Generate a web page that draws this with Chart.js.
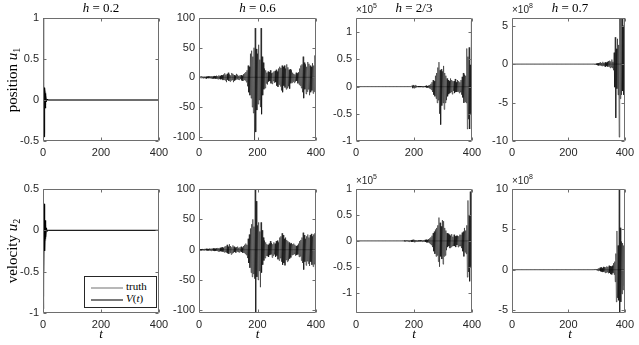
<!DOCTYPE html>
<html><head><meta charset="utf-8">
<script src="https://cdn.jsdelivr.net/npm/chart.js@4/dist/chart.umd.min.js"></script>
<style>
html,body{margin:0;padding:0;background:#fff;}
#wrap{position:relative;width:639px;height:345px;overflow:hidden;background:#fff;}
#wrap canvas{position:absolute;left:0;top:0;}
.lbl{position:absolute;white-space:nowrap;font-family:"Liberation Serif","DejaVu Serif",serif;color:#000;transform:translate(-50%,-50%);z-index:5;}
.ttl{font-size:13px;}
.ylab{font-size:15px;transform:translate(-50%,-50%) rotate(-90deg);}
.exp{position:absolute;white-space:nowrap;font-family:"Liberation Sans",Arial,sans-serif;font-size:10px;color:#262626;z-index:5;}
.exp sup{font-size:7px;vertical-align:5px;line-height:0;}
sub{font-size:10px;vertical-align:-3px;line-height:0;}
#legend{position:absolute;left:84px;top:276px;width:71px;height:30px;border:1px solid #262626;background:#fff;z-index:6;font-family:"Liberation Serif",serif;font-size:11px;}
.lgline{position:absolute;left:6px;width:32px;height:1.5px;}
.lgtxt{position:absolute;left:41px;white-space:nowrap;}
</style></head>
<body>
<div id="wrap"></div>
<script>
// ---------- data ----------
const xTicks = [0, 200, 400];
// time grid (t = 0, 2, ..., 400) for h = 0.6, 2/3, 0.7
const tGrid = [0,2,4,6,8,10,12,14,16,18,20,22,24,26,28,30,32,34,36,38,40,42,44,46,48,50,52,54,56,58,60,62,64,66,68,70,72,74,76,78,80,82,84,86,88,90,92,94,96,98,100,102,104,106,108,110,112,114,116,118,120,122,124,126,128,130,132,134,136,138,140,142,144,146,148,150,152,154,156,158,160,162,164,166,168,170,172,174,176,178,180,182,184,186,188,190,192,194,196,198,200,202,204,206,208,210,212,214,216,218,220,222,224,226,228,230,232,234,236,238,240,242,244,246,248,250,252,254,256,258,260,262,264,266,268,270,272,274,276,278,280,282,284,286,288,290,292,294,296,298,300,302,304,306,308,310,312,314,316,318,320,322,324,326,328,330,332,334,336,338,340,342,344,346,348,350,352,354,356,358,360,362,364,366,368,370,372,374,376,378,380,382,384,386,388,390,392,394,396,398,400];
// early-time grid (transient)
const tEarly = [0,1,2,3,4,5,6,7,8,9,10,12,14,16,20,400];
const truthU1 = [1,0.95,0.6,0.05,-0.4,-0.3,0.12,0.1,-0.06,-0.04,0.03,-0.01,0,0,0,0];
const truthU2 = [0,-0.3,-0.8,-0.7,0.1,0.3,0.05,-0.12,-0.05,0.06,0.03,-0.01,0,0,0,0];
// h = 0.2
const vU1_h02 = [1,1,0.7,0.1,-0.45,-0.2,0.15,0.08,-0.1,-0.05,0.06,-0.02,0.01,0,0,0];
const vU2_h02 = [0,-0.2,-0.95,-0.5,0.32,0.2,-0.25,-0.1,0.12,0.05,-0.08,0.03,-0.01,0,0,0];
// h = 0.6
const vU1_h06 = [
1,-1.5,1.2,-1,1.5,-1.2,1,-1.4,1.2,-1,
1.5,-1.8,1.3,-2,1.6,-1.2,2,-1.5,1.8,-1.3,
2,-1.6,2.2,-2.5,1.8,-2,2.5,-1.8,2.2,-2.6,
3,-2.5,2.2,-3,3.5,-2.8,2.5,-3.2,4,-3,
3.5,-4.5,5,-3.8,7,-5,4.5,-8,6,-4,
8,-6,5,-7,3.5,-5,7.5,-4,6,-8,
4,-5.5,3,-4,6,-3,4.5,-3.5,2.5,-4,
3.5,-2.5,4,-5,3,-6,5.5,-4,7,-5,
9,-8,12,-15,20,-25,18,-30,40,-35,
45,-50,35,-60,50,-107,83,-92,48,-55,
40,-45,55,-38,30,-50,83,-62,35,-30,
25,-20,15,-18,12,-10,8,-12,10,-7,
9,-6,12,-10,7,-11,8,-6,10,-9,
11,-8,13,-14,10,-16,15,-12,18,-15,
16,-22,20,-25,18,-14,20,-17,15,-20,
22,-18,17,-15,13,-19,14,-10,12,-9,
8,-7,6,-9,5,-7,8,-6,7,-10,
9,-12,15,-14,20,-18,22,-25,35,-35,
25,-20,22,-28,18,-24,26,-20,23,-30,
20,-25,18,-22,24,-27,20,-24,37,-22,
25];
const vU2_h06 = [
0,-1,0.8,-1.2,1,-0.8,1.2,-1,0.9,-1.1,
1.3,-1,1.5,-1.2,1.4,-1.6,1.2,-1.5,1.8,-1.3,
1.6,-2,1.8,-1.5,2.2,-1.8,2,-2.4,1.7,-2.2,
2.5,-2,2.8,-3,2.4,-3.2,3,-2.6,3.5,-3,
4,-3.5,3,-4.5,5,-4,6,-5,8,-6,
5,-7,9,-5,6,-8,4,-6,7,-5,
5,-4,3.5,-5,4,-3,5,-4,3,-4.5,
4,-3,5,-4,3.5,-5.5,6,-5,8,-7,
10,-9,8,-14,18,-22,25,-30,35,-38,
42,-45,50,-40,38,-48,100,-104,80,-45,
40,-50,45,-35,30,-62,45,-38,32,-25,
20,-18,15,-14,12,-10,9,-11,8,-12,
10,-9,14,-8,11,-13,9,-10,12,-8,
10,-12,14,-10,15,-16,12,-18,20,-14,
22,-20,27,-25,24,-22,18,-26,20,-17,
16,-20,14,-18,12,-15,10,-13,11,-9,
9,-8,10,-7,8,-10,6,-9,7,-8,
10,-12,14,-11,16,-18,20,-22,28,-33,
24,-20,18,-26,22,-19,25,-23,20,-27,
24,-20,26,-25,22,-28,25,-24,27,-33,
20];
// h = 2/3 (values in units of 10^5)
const vU1_h23 = [
0,0,0,0,0,0,0,0,0,0, 0,0,0,0,0,0,0,0,0,0,
0,0,0,0,0,0,0,0,0,0, 0,0,0,0,0,0,0,0,0,0,
0,0,0,0,0,0,0,0,0,0, 0,0,0,0,0,0,0,0,0,0,
0,0,0,0,0,0,0,0,0,0, 0,0,0,0,0,0,0,0,0,0,
0,0,0,0,0,0,0,0,0,0,
0,0,0,0,0,0,0,0.02,-0.03,0.03,
-0.03,0.02,-0.02,0.03,-0.01,0.01,-0.01,0.01,-0.01,0.01,
-0.01,0.01,-0.01,0.01,-0.01,0.01,-0.01,0.01,-0.01,0.01,
-0.01,0.02,-0.02,0.01,-0.02,0.02,-0.03,0.03,-0.04,0.05,
-0.06,0.08,-0.1,0.12,-0.15,0.1,-0.18,0.2,-0.22,0.25,
-0.3,0.35,-0.25,0.45,-0.5,0.3,-0.7,0.32,-0.35,0.28,
-0.3,0.38,-0.42,0.25,-0.3,0.2,-0.25,0.15,-0.18,0.12,
-0.14,0.1,-0.12,0.15,-0.1,0.12,-0.14,0.1,-0.08,0.1,
-0.12,0.14,-0.1,0.08,-0.1,0.12,-0.09,0.1,-0.12,0.08,
-0.1,0.12,-0.15,0.18,-0.2,0.25,-0.3,0.22,-0.28,0.2,
-0.3,0.7,-0.78,0.55,-0.6,0.72,-0.78,0.4,-0.5,1.2,
-0.3];
const vU2_h23 = [
0,0,0,0,0,0,0,0,0,0, 0,0,0,0,0,0,0,0,0,0,
0,0,0,0,0,0,0,0,0,0, 0,0,0,0,0,0,0,0,0,0,
0,0,0,0,0,0,0,0,0,0, 0,0,0,0,0,0,0,0,0,0,
0,0,0,0,0,0,0,0,0,0, 0,0,0,0,0,0,0,0,0,0,
0,0.005,-0.005,0.01,-0.01,0.005,-0.01,0.01,-0.005,0.01,
-0.01,0.01,-0.015,0.01,-0.01,0.015,-0.02,0.02,-0.02,0.025,
-0.025,0.02,-0.02,0.015,-0.01,0.01,-0.015,0.01,-0.01,0.01,
-0.01,0.015,-0.01,0.01,-0.015,0.01,-0.01,0.015,-0.015,0.02,
-0.02,0.025,-0.03,0.02,-0.03,0.035,-0.04,0.05,-0.06,0.07,
-0.08,0.1,-0.12,0.15,-0.2,0.18,-0.25,0.22,-0.3,0.25,
-0.28,0.3,-0.4,0.45,-0.5,0.35,-0.3,0.28,-0.35,0.4,
-0.45,0.38,-0.3,0.25,-0.28,0.2,-0.18,0.15,-0.12,0.14,
-0.1,0.12,-0.14,0.1,-0.12,0.13,-0.1,0.08,-0.1,0.12,
-0.1,0.09,-0.12,0.1,-0.08,0.1,-0.12,0.09,-0.1,0.12,
-0.1,0.12,-0.14,0.16,-0.2,0.18,-0.3,0.25,-0.22,0.2,
-0.25,0.3,-0.7,0.78,-0.6,0.5,-0.78,0.95,-0.5,0.4,
-0.3];
// h = 0.7 (values in units of 10^8)
const vU1_h07 = [
0,0,0,0,0,0,0,0,0,0, 0,0,0,0,0,0,0,0,0,0,
0,0,0,0,0,0,0,0,0,0, 0,0,0,0,0,0,0,0,0,0,
0,0,0,0,0,0,0,0,0,0, 0,0,0,0,0,0,0,0,0,0,
0,0,0,0,0,0,0,0,0,0, 0,0,0,0,0,0,0,0,0,0,
0,0,0,0,0,0,0,0,0,0, 0,0,0,0,0,0,0,0,0,0,
0,0,0,0,0,0,0,0,0,0, 0,0,0,0,0,0,0,0,0,0,
0,0,0,0,0,0,0,0,0,0, 0,0,0,0,0,0,0,0,0,0,
0,0,0,0,0,0.02,-0.03,0.04,-0.05,0.06,
-0.08,0.1,-0.15,0.12,-0.2,0.18,-0.15,0.25,-0.2,0.15,
-0.25,0.3,-0.2,0.15,-0.3,0.25,-0.35,0.2,-0.25,0.3,
-0.35,0.4,-0.3,0.45,-0.5,0.35,-0.4,0.6,-0.5,0.3,
-0.8,1.5,-3,3.5,-7,2,-3.2,3.3,-4,2.5,
-9.5,6.5,-4.5,6.5,-4,6.2,-3.5,5,-4,6,
-2];
const vU2_h07 = [
0,0,0,0,0,0,0,0,0,0, 0,0,0,0,0,0,0,0,0,0,
0,0,0,0,0,0,0,0,0,0, 0,0,0,0,0,0,0,0,0,0,
0,0,0,0,0,0,0,0,0,0, 0,0,0,0,0,0,0,0,0,0,
0,0,0,0,0,0,0,0,0,0, 0,0,0,0,0,0,0,0,0,0,
0,0,0,0,0,0,0,0,0,0, 0,0,0,0,0,0,0,0,0,0,
0,0,0,0,0,0,0,0,0,0, 0,0,0,0,0,0,0,0,0,0,
0,0,0,0,0,0,0,0,0,0, 0,0,0,0,0,0,0,0,0,0,
0,0,0,0,0,0,0.02,-0.02,0.03,-0.04,
0.05,-0.08,0.1,-0.15,0.2,-0.12,0.25,-0.2,0.3,-0.25,
0.2,-0.3,0.35,-0.25,0.3,-0.4,0.3,-0.35,0.4,-0.3,
0.35,-0.45,0.5,-0.4,0.45,-0.55,0.4,-0.6,0.5,-0.4,
0.8,-0.6,1,-1.5,2,-4,4.8,-3.5,3,-3.8,
10,-5.4,5.2,-4,3.5,-3,3.3,-2.5,3,-2,
1];
// y tick values per panel
const yTicks1 = [-0.5,0,0.5,1], yTicks2 = [-100,-50,0,50,100], yTicks3 = [-1,-0.5,0,0.5,1], yTicks4 = [-10,-5,0,5];
const yTicks5 = [-1,-0.5,0,0.5], yTicks6 = [-100,-50,0,50,100], yTicks7 = [-1,-0.5,0,0.5,1], yTicks8 = [-5,0,5,10];
const titles = ['0.2','0.6','2/3','0.7'];

// ---------- layout ----------
const COLL = [43,199,356,512], COLR = [159,316,472,628];
const ROWT = [18,189], ROWB = [141,313];
const V_COLOR = '#000000', TRUTH_COLOR = '#b8b8b8';

const panels = [
 {r:0,c:0,t:tEarly,v:vU1_h02,tr:truthU1,sc:1,ymin:-0.5,ymax:1,yt:yTicks1,lw:1},
 {r:0,c:1,t:tGrid,v:vU1_h06,tr:truthU1,sc:1,ymin:-107,ymax:100,yt:yTicks2,lw:0.5},
 {r:0,c:2,t:tGrid,v:vU1_h23,tr:truthU1,sc:1e5,ymin:-1,ymax:1.26,yt:yTicks3,ex:'5',lw:0.5},
 {r:0,c:3,t:tGrid,v:vU1_h07,tr:truthU1,sc:1e8,ymin:-10,ymax:6,yt:yTicks4,ex:'8',lw:0.5},
 {r:1,c:0,t:tEarly,v:vU2_h02,tr:truthU2,sc:1,ymin:-1,ymax:0.5,yt:yTicks5,lw:1},
 {r:1,c:1,t:tGrid,v:vU2_h06,tr:truthU2,sc:1,ymin:-104.5,ymax:100,yt:yTicks6,lw:0.5},
 {r:1,c:2,t:tGrid,v:vU2_h23,tr:truthU2,sc:1e5,ymin:-1.39,ymax:1,yt:yTicks7,ex:'5',lw:0.5},
 {r:1,c:3,t:tGrid,v:vU2_h07,tr:truthU2,sc:1e8,ymin:-5.37,ymax:10,yt:yTicks8,ex:'8',lw:0.5}
];

const boxPlugin = {
  id:'mbox',
  afterDraw(chart){
    const {ctx, chartArea:a, scales:{x,y}} = chart;
    ctx.save();
    ctx.strokeStyle = '#6e6e6e'; ctx.lineWidth = 1;
    const L = Math.round(a.left)+0.5, R = Math.round(a.right)-0.5, T = Math.round(a.top)+0.5, B = Math.round(a.bottom)-0.5;
    ctx.beginPath();
    ctx.rect(L,T,R-L,B-T);
    const tl = 3;
    x.ticks.forEach(tk=>{const px=Math.round(x.getPixelForValue(tk.value))+0.5; ctx.moveTo(px,B); ctx.lineTo(px,B-tl); ctx.moveTo(px,T); ctx.lineTo(px,T+tl);});
    y.ticks.forEach(tk=>{const py=Math.round(y.getPixelForValue(tk.value))+0.5; ctx.moveTo(L,py); ctx.lineTo(L+tl,py); ctx.moveTo(R,py); ctx.lineTo(R-tl,py);});
    ctx.stroke();
    ctx.restore();
  }
};

const wrap = document.getElementById('wrap');
panels.forEach(p=>{
  const L = COLL[p.c], R = COLR[p.c], T = ROWT[p.r], B = ROWB[p.r];
  const cv = document.createElement('canvas');
  cv.width = 639; cv.height = 345; cv.style.width='639px'; cv.style.height='345px';
  wrap.appendChild(cv);
  const vData = p.v.map((y,i)=>({x:p.t[i], y:y}));
  const trData = p.tr.map((y,i)=>({x:tEarly[i], y:y/p.sc}));
  const tickFont = {family:'"Liberation Sans", Arial, sans-serif', size:11};
  new Chart(cv, {
    type:'line',
    data:{datasets:[
      {label:'V(t)', data:vData, borderColor:V_COLOR, borderWidth:p.lw, pointRadius:0, tension:0, fill:false, clip:0},
      {label:'truth', data:trData, borderColor:TRUTH_COLOR, borderWidth:1.2, pointRadius:0, tension:0, fill:false, clip:0}
    ]},
    options:{
      responsive:false, animation:false, devicePixelRatio:1, events:[],
      layout:{padding:{left:L-34, right:639-R, top:T, bottom:345-B-20}},
      plugins:{legend:{display:false}, tooltip:{enabled:false}, title:{display:false}},
      scales:{
        x:{type:'linear', min:0, max:400,
           grid:{display:false, drawTicks:false}, border:{display:false},
           afterBuildTicks:s=>{s.ticks = xTicks.map(v=>({value:v}));},
           afterFit:s=>{s.height = 20;},
           ticks:{padding:5, color:'#262626', font:tickFont, maxRotation:0, autoSkip:false, callback:v=>String(v)}},
        y:{type:'linear', min:p.ymin, max:p.ymax,
           grid:{display:false, drawTicks:false}, border:{display:false},
           afterBuildTicks:s=>{s.ticks = p.yt.map(v=>({value:v}));},
           afterFit:s=>{s.width = 34;},
           ticks:{padding:4, color:'#262626', font:tickFont, autoSkip:false, callback:v=>String(v)}}
      }
    },
    plugins:[boxPlugin]
  });
  if (p.r === 0) {
    const d = document.createElement('div');
    d.className = 'lbl ttl';
    d.style.left = ((L+R)/2)+'px'; d.style.top = '8px';
    d.innerHTML = '<i>h</i> = ' + titles[p.c];
    wrap.appendChild(d);
  } else {
    const d = document.createElement('div');
    d.className = 'lbl ttl';
    d.style.left = ((L+R)/2)+'px'; d.style.top = '334px';
    d.innerHTML = '<i>t</i>';
    wrap.appendChild(d);
  }
  if (p.ex) {
    const e = document.createElement('div');
    e.className = 'exp';
    e.style.left = L+'px'; e.style.top = (T-14)+'px';
    e.innerHTML = '×10<sup>'+p.ex+'</sup>';
    wrap.appendChild(e);
  }
});
// y labels
[['position <i>u</i><sub>1</sub>', (ROWT[0]+ROWB[0])/2], ['velocity <i>u</i><sub>2</sub>', (ROWT[1]+ROWB[1])/2]].forEach(([h,y])=>{
  const d = document.createElement('div');
  d.className = 'lbl ylab';
  d.style.left = '12px'; d.style.top = y+'px';
  d.innerHTML = h;
  wrap.appendChild(d);
});
// legend
const lg = document.createElement('div');
lg.id = 'legend';
lg.innerHTML = '<div class="lgline" style="top:10px;background:'+TRUTH_COLOR+'"></div><div class="lgtxt" style="top:3px">truth</div>'+
               '<div class="lgline" style="top:22px;background:#7a7a7a"></div><div class="lgtxt" style="top:15px"><i>V</i>(<i>t</i>)</div>';
wrap.appendChild(lg);
</script>
</body></html>
